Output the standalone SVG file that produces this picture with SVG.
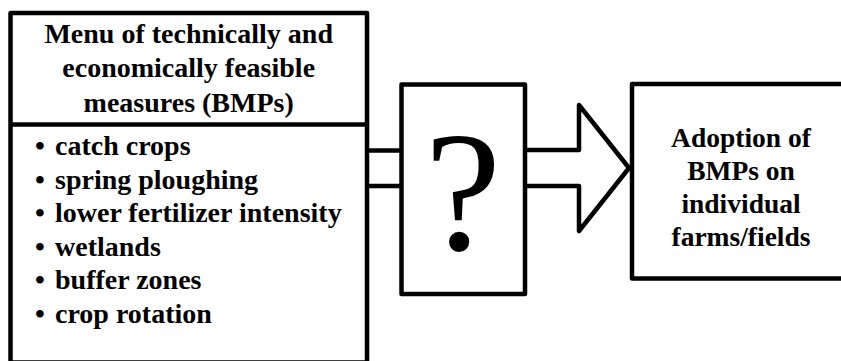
<svg xmlns="http://www.w3.org/2000/svg" width="841" height="361" viewBox="0 0 841 361">
<style>
.box{fill:#fff;stroke:#000;stroke-width:4.5;stroke-linejoin:round}
.ln{fill:none;stroke:#000;stroke-width:4.5;stroke-linejoin:round}
.t{font-family:"Liberation Serif","Times New Roman",serif;font-weight:bold;font-size:27.5px;fill:#000}
.l{font-size:28px}
.c{text-anchor:middle}
.q{font-family:"Liberation Serif","Times New Roman",serif;font-size:172px;fill:#000;text-anchor:middle}
</style>
<rect width="841" height="361" fill="#fff"/>
<g id="connectors">
<line class="ln" x1="367" y1="150.5" x2="401" y2="150.5"/>
<line class="ln" x1="367" y1="186" x2="401" y2="186"/>
<polyline class="ln" points="525,150 579,150 579,105 629,168 579,231 579,186 525,186"/>
</g>
<g id="menu">
<rect class="box" x="10.5" y="13" width="356.5" height="349.5"/>
<line class="ln" x1="10.5" y1="124.5" x2="367" y2="124.5"/>
<text class="t l c" x="188.7" y="42.7">Menu of technically and</text>
<text class="t l c" x="188.7" y="77.3">economically feasible</text>
<text class="t l c" x="188.7" y="111.7">measures (BMPs)</text>
<text class="t l" y="155"><tspan x="35">•</tspan><tspan x="55">catch crops</tspan></text>
<text class="t l" y="188.5"><tspan x="35">•</tspan><tspan x="55">spring ploughing</tspan></text>
<text class="t l" y="222"><tspan x="35">•</tspan><tspan x="55">lower fertilizer intensity</tspan></text>
<text class="t l" y="255.5"><tspan x="35">•</tspan><tspan x="55">wetlands</tspan></text>
<text class="t l" y="289"><tspan x="35">•</tspan><tspan x="55">buffer zones</tspan></text>
<text class="t l" y="322.5"><tspan x="35">•</tspan><tspan x="55">crop rotation</tspan></text>
</g>
<g id="question">
<rect class="box" x="401.5" y="84.5" width="123.5" height="209.5"/>
<text class="q" x="463" y="250">?</text>
</g>
<g id="adoption">
<rect class="box" x="632" y="84" width="220" height="194.5"/>
<text class="t c" x="741" y="147">Adoption of</text>
<text class="t c" x="741" y="180">BMPs on</text>
<text class="t c" x="741" y="213">individual</text>
<text class="t c" x="741" y="246">farms/fields</text>
</g>
</svg>
